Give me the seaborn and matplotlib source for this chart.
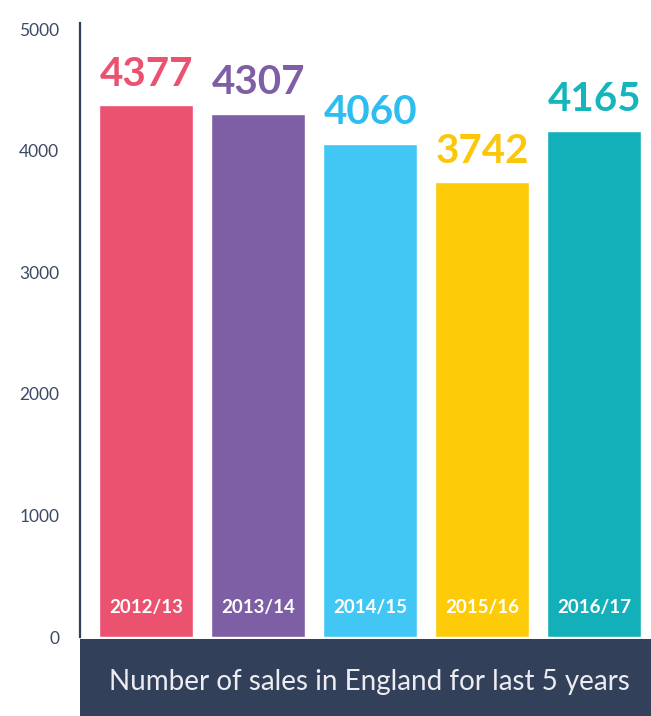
import pandas as pd
import seaborn as sns
import matplotlib.pyplot as plt
from matplotlib.patches import Rectangle

# Data
years = ['2012/13', '2013/14', '2014/15', '2015/16', '2016/17']
sales = [4377, 4307, 4060, 3742, 4165]
bar_colors = ['#EA526F', '#7E5EA5', '#42C7F4', '#FECB09', '#14B0BA']
label_colors = ['#EA526F', '#7E5EA5', '#2DBDF0', '#FCC70A', '#16B5BC']
caption = 'Number of sales in England for last 5 years'

df = pd.DataFrame({'year': years, 'sales': sales})

sns.set_style('white')
plt.rcParams['font.family'] = ['Lato', 'DejaVu Sans']

W, H = 651, 716
fig = plt.figure(figsize=(W / 100, H / 100), dpi=100)

# axes placed in pixel terms: left spine at x=80, zero at y=637, top at y=23
ax = fig.add_axes([80 / W, (H - 637) / H, (W - 80) / W, (637 - 23) / H])
sns.barplot(data=df, x='year', y='sales', hue='year', palette=bar_colors,
            width=0.84, saturation=1, legend=False, ax=ax)

ax.set_xlim(-0.59, 4.505)
ax.set_ylim(0, 5053)
ax.set_yticks([0, 1000, 2000, 3000, 4000, 5000])
ax.tick_params(axis='y', length=0, pad=15, labelsize=12.5, labelcolor='#3E4963')
ax.set_xticks([])
ax.set_xlabel('')
ax.set_ylabel('')
for s in ['top', 'right', 'bottom']:
    ax.spines[s].set_visible(False)
ax.spines['left'].set_color('#334059')
ax.spines['left'].set_linewidth(1.6)

# value labels above bars and year labels inside the bars
for i, (v, yr) in enumerate(zip(sales, years)):
    ax.annotate(f'{v}', (i, v), xytext=(0, 9), textcoords='offset points',
                ha='center', va='bottom', fontsize=29, fontweight='bold',
                color=label_colors[i])
    ax.annotate(yr, (i, 0), xytext=(0, 21), textcoords='offset points',
                ha='center', va='center', fontsize=13.5, fontweight='bold',
                color='white')

# dark caption band under the bars
fig.patches.append(Rectangle((80 / W, 0), (W - 80) / W, (716 - 639) / H,
                             transform=fig.transFigure, facecolor='#334059',
                             edgecolor='none', zorder=5))
fig.text(369 / W, (H - 682) / H, caption, ha='center', va='center',
         fontsize=20, color='#ECEDF2', zorder=6)

fig.savefig('out.png', dpi=100)
